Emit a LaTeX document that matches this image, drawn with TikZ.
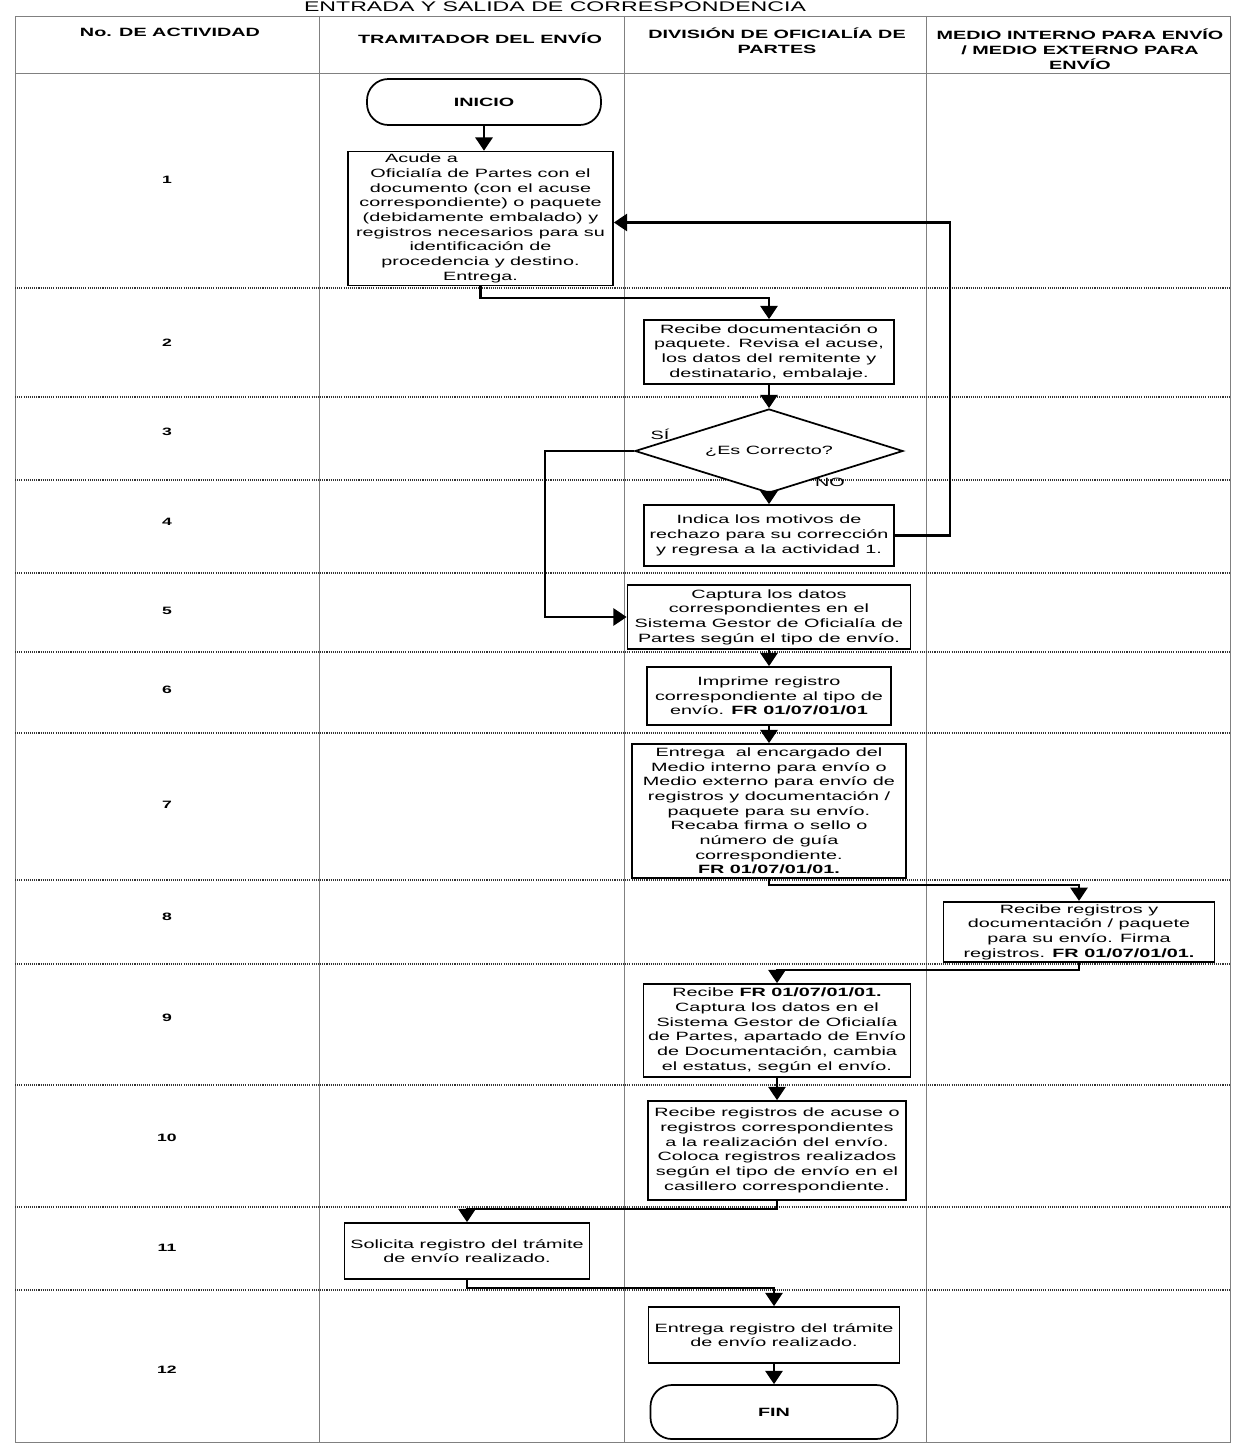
\documentclass[tikz,border=0pt]{standalone}
\usepackage{fontspec}
\setmainfont{Liberation Sans}[FakeStretch=1.65]
\usetikzlibrary{arrows.meta,shapes.geometric}
\begin{document}
\begin{tikzpicture}[x=0.75pt,y=-0.75pt,
  every node/.style={inner sep=0pt, font=\fontsize{9pt}{11pt}\selectfont},
  hdr/.style={font=\bfseries\fontsize{9pt}{11.25pt}\selectfont, align=center},
  num/.style={font=\bfseries\fontsize{8pt}{10pt}\selectfont},
  lbl/.style={font=\fontsize{9pt}{11pt}\selectfont},
  box/.style 2 args={draw, line width=1.3pt, fill=white, align=center, inner sep=2pt,
    minimum width=#1*0.75pt, minimum height=#2*0.75pt, font=\fontsize{9pt}{11pt}\selectfont},
  term/.style 2 args={draw, line width=1.3pt, fill=white, rounded corners=16pt,
    minimum width=#1*0.75pt, minimum height=#2*0.75pt, font=\bfseries\fontsize{9pt}{11pt}\selectfont},
  decision/.style={diamond, aspect=3.2, draw, line width=1.3pt, fill=white, inner sep=0pt,
    minimum width=268*0.75pt, minimum height=84*0.75pt},
  arr/.style={line width=1.6pt, -{Triangle[width=13pt,length=10pt]}},
  grid/.style={draw=black!50, line width=0.6pt},
  rowsep/.style={draw=black!80, line width=0.9pt, dash pattern=on 0.8pt off 0.8pt}]
\useasboundingbox (0,0) rectangle (1235,1445);
\fill[white] (0,0) rectangle (1235,1445);

% title
\node[font=\fontsize{10.5pt}{12pt}\selectfont, anchor=base] (title) at (555,12) {ENTRADA Y SALIDA DE CORRESPONDENCIA};

% table
\draw[grid] (15,16) rectangle (1230,1442);
\draw[grid] (15,73) -- (1230,73);
\foreach \x in {319,624,926} \draw[grid] (\x,16) -- (\x,1442);
\foreach \y in {288,397,480,573,652,733,880,964,1085,1207,1290}
  \draw[rowsep] (15,\y) -- (1230,\y);

% headers
\node[hdr] (h1) at (170,32) {No. DE ACTIVIDAD};
\node[hdr] (h2) at (480,38) {TRAMITADOR DEL ENVÍO};
\node[hdr] (h3) at (777,41) {DIVISIÓN DE OFICIALÍA DE\\PARTES};
\node[hdr] (h4) at (1080,49) {MEDIO INTERNO PARA ENVÍO\\/ MEDIO EXTERNO PARA\\ENVÍO};

% activity numbers
\foreach \n/\y in {1/180,2/343,3/432,4/522,5/611,6/690,7/805,8/917,9/1018,10/1138,11/1248,12/1370}
  \node[num] (r\n) at (167,\y) {\n};

% flow nodes
\node[term={234}{46}] (ini) at (484,102) {INICIO};
\node[box={265}{133}] (b1) at (480.5,218.5) {\makebox[143pt][l]{Acude a}\\Oficialía de Partes con el\\documento (con el acuse\\correspondiente) o paquete\\(debidamente embalado) y\\registros necesarios para su\\identificación de\\procedencia y destino.\\Entrega.};
\node[box={250}{64}] (b2) at (769,352) {Recibe documentación o\\paquete. Revisa el acuse,\\los datos del remitente y\\destinatario, embalaje.};
\node[decision] (dia) at (769,451) {¿Es Correcto?};
\node[lbl] (si) at (660,434) {SÍ};
\node[lbl] (no) at (830,482) {NO};
\node[box={250}{61}] (b4) at (769,535.5) {Indica los motivos de\\rechazo para su corrección\\y regresa a la actividad 1.};
\node[box={283}{64}] (b5) at (769,617) {Captura los datos\\correspondientes en el\\Sistema Gestor de Oficialía de\\Partes según el tipo de envío.};
\node[box={244}{58}] (b6) at (769,696) {Imprime registro\\correspondiente al tipo de\\envío. \textbf{FR 01/07/01/01}};
\node[box={274}{134}] (b7) at (769,811) {Entrega\ \ al encargado del\\Medio interno para envío o\\Medio externo para envío de\\registros y documentación /\\paquete para su envío.\\Recaba firma o sello o\\número de guía\\correspondiente.\\\textbf{FR 01/07/01/01.}};
\node[box={271}{58}] (b8) at (1079,932) {Recibe registros y\\documentación / paquete\\para su envío. Firma\\registros. \textbf{FR 01/07/01/01.}};
\node[box={267}{93}] (b9) at (777,1030.5) {Recibe \textbf{FR 01/07/01/01.}\\Captura los datos en el\\Sistema Gestor de Oficialía\\de Partes, apartado de Envío\\de Documentación, cambia\\el estatus, según el envío.};
\node[box={258}{99}] (b10) at (777,1150.5) {Recibe registros de acuse o\\registros correspondientes\\a la realización del envío.\\Coloca registros realizados\\según el tipo de envío en el\\casillero correspondiente.};
\node[box={245}{56}] (b11) at (467,1251) {Solicita registro del trámite\\de envío realizado.};
\node[box={251}{56}] (b12) at (774,1335) {Entrega registro del trámite\\de envío realizado.};
\node[term={247}{54}] (fin) at (774,1412) {FIN};

% connectors
\draw[arr] (ini.south) -- (ini.south |- b1.north);
\draw[arr] (b1.south) -- ++(0,12) -| (b2.north);
\draw[arr] (b2.south) -- (dia.north);
\draw[arr] (dia.west) -- ++(-89,0) |- (b5.west);
\draw[arr] (dia.south) -- (b4.north);
\draw[arr] (b4.east) -- ++(55,0) |- ([yshift=-3pt]b1.east);
\draw[arr] (b5.south) -- (b6.north);
\draw[arr] (b6.south) -- (b7.north);
\draw[arr] (b7.south) -- ++(0,6) -| (b8.north);
\draw[arr] (b8.south) -- ++(0,7) -| (b9.north);
\draw[arr] (b9.south) -- (b10.north);
\draw[arr] (b10.south) -- ++(0,8) -| (b11.north);
\draw[arr] (b11.south) -- ++(0,8) -| (b12.north);
\draw[arr] (b12.south) -- (fin.north);
\end{tikzpicture}
\end{document}
